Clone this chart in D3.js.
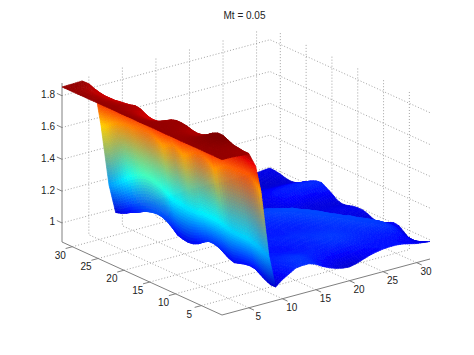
<!DOCTYPE html>
<html>
<head>
<meta charset="utf-8">
<script src="https://cdn.jsdelivr.net/npm/d3@7"></script>
<style>
    html, body { margin: 0; padding: 0; background: #fff; }
    text { font-family: "Liberation Sans", Arial, sans-serif; font-size: 10px; fill: #222; }
</style>
</head>
<body>
<div id="chart"></div>
<script>
// Surface chart, titled Mt = 0.05

const titleText = 'Mt = 0.05';
const xTicks = [5, 10, 15, 20, 25, 30];
const yTicks = [5, 10, 15, 20, 25, 30];
const zTicks = [1, 1.2, 1.4, 1.6, 1.8];
const xValues = [1, 2, 3, 4, 5, 6, 6.8, 8, 9, 10, 11, 12, 13, 14, 15, 16, 17, 18, 19, 20, 21, 22, 23, 24, 25, 26, 27, 28, 29, 30, 31, 32];
const yValues = d3.range(1, 33);

// One row per x value, read along y = 1..32
const zRows = [
    [1.857,1.857,1.858,1.857,1.858,1.858,1.857,1.857,1.856,1.857,1.857,1.856,1.857,1.858,1.857,1.856,1.856,1.857,1.857,1.856,1.856,1.857,1.857,1.856,1.856,1.856,1.855,1.856,1.855,1.855,1.855,1.855],
    [1.857,1.857,1.858,1.859,1.862,1.864,1.864,1.862,1.858,1.855,1.854,1.855,1.856,1.857,1.857,1.855,1.851,1.847,1.846,1.846,1.848,1.85,1.852,1.85,1.849,1.848,1.847,1.847,1.847,1.849,1.853,1.856],
    [1.855,1.855,1.857,1.86,1.865,1.87,1.87,1.865,1.857,1.85,1.847,1.85,1.853,1.855,1.855,1.85,1.84,1.83,1.83,1.83,1.835,1.84,1.845,1.84,1.84,1.835,1.835,1.835,1.835,1.84,1.85,1.857],
    [1.85,1.85,1.855,1.86,1.87,1.88,1.88,1.87,1.85,1.84,1.838,1.84,1.85,1.852,1.852,1.845,1.825,1.81,1.805,1.805,1.815,1.83,1.835,1.828,1.822,1.82,1.815,1.815,1.815,1.82,1.84,1.859],
    [1.85,1.85,1.855,1.86,1.875,1.89,1.89,1.875,1.85,1.835,1.83,1.835,1.845,1.85,1.85,1.84,1.81,1.795,1.79,1.79,1.80,1.82,1.825,1.815,1.81,1.806,1.80,1.80,1.80,1.806,1.815,1.83],
    [1.76,1.77,1.78,1.79,1.79,1.79,1.78,1.77,1.76,1.75,1.76,1.77,1.78,1.77,1.76,1.75,1.75,1.76,1.75,1.75,1.75,1.76,1.77,1.77,1.77,1.76,1.76,1.76,1.76,1.76,1.76,1.76],
    [1.59,1.63,1.66,1.67,1.67,1.66,1.66,1.65,1.63,1.60,1.63,1.65,1.66,1.65,1.62,1.60,1.62,1.64,1.62,1.60,1.62,1.64,1.65,1.65,1.64,1.63,1.63,1.62,1.61,1.59,1.56,1.55],
    [1.17,1.18,1.20,1.21,1.22,1.22,1.22,1.22,1.23,1.24,1.25,1.25,1.25,1.25,1.24,1.24,1.24,1.25,1.25,1.26,1.28,1.30,1.31,1.32,1.32,1.31,1.29,1.27,1.24,1.21,1.18,1.16],
    [.965,.965,.98,1.0,1.02,1.025,1.02,1.01,1.0,1.01,1.03,1.05,1.06,1.06,1.04,1.015,1.0,.995,1.0,1.01,1.04,1.065,1.08,1.085,1.08,1.07,1.055,1.035,1.02,1.0,.985,.975],
    [1.0,1.0,1.01,1.025,1.035,1.04,1.03,1.02,1.01,1.02,1.035,1.05,1.06,1.06,1.045,1.02,1.005,1.0,1.005,1.015,1.04,1.06,1.07,1.075,1.07,1.06,1.045,1.03,1.015,1.0,.99,.98],
    [1.025,1.025,1.03,1.035,1.04,1.04,1.035,1.03,1.025,1.03,1.04,1.05,1.055,1.055,1.04,1.025,1.01,1.005,1.01,1.02,1.04,1.055,1.06,1.065,1.06,1.05,1.04,1.025,1.01,1.0,.99,.985],
    [1.05,1.05,1.05,1.05,1.045,1.04,1.035,1.03,1.03,1.035,1.04,1.05,1.05,1.05,1.035,1.025,1.015,1.01,1.015,1.025,1.04,1.05,1.055,1.055,1.05,1.04,1.03,1.02,1.01,1.0,.995,.99],
    [1.055,1.06,1.06,1.055,1.05,1.04,1.035,1.03,1.03,1.035,1.04,1.045,1.045,1.04,1.03,1.025,1.02,1.015,1.02,1.03,1.04,1.045,1.045,1.045,1.04,1.03,1.02,1.015,1.005,1.0,.995,.99],
    [1.055,1.06,1.065,1.06,1.05,1.04,1.03,1.03,1.03,1.035,1.04,1.04,1.04,1.035,1.03,1.025,1.02,1.02,1.025,1.03,1.035,1.04,1.04,1.035,1.03,1.02,1.015,1.01,1.0,.995,.99,.985],
    [1.04,1.05,1.055,1.055,1.045,1.035,1.03,1.03,1.03,1.035,1.04,1.04,1.035,1.03,1.03,1.03,1.025,1.025,1.03,1.035,1.035,1.035,1.03,1.03,1.02,1.015,1.01,1.0,.995,.99,.985,.985],
    [1.015,1.03,1.04,1.045,1.04,1.035,1.03,1.03,1.035,1.04,1.04,1.035,1.03,1.03,1.03,1.035,1.035,1.035,1.04,1.04,1.035,1.03,1.025,1.02,1.015,1.01,1.0,.995,.99,.985,.985,.985],
    [.995,1.01,1.03,1.04,1.04,1.035,1.035,1.04,1.04,1.045,1.04,1.035,1.03,1.035,1.04,1.04,1.045,1.045,1.045,1.04,1.035,1.025,1.02,1.015,1.01,1.0,.995,.99,.985,.985,.985,.985],
    [.98,1.0,1.02,1.035,1.04,1.04,1.04,1.045,1.05,1.05,1.04,1.035,1.035,1.04,1.045,1.05,1.055,1.055,1.05,1.04,1.03,1.02,1.015,1.01,1.0,.995,.99,.985,.98,.98,.985,.985],
    [.97,.99,1.015,1.035,1.045,1.05,1.05,1.055,1.055,1.05,1.045,1.04,1.04,1.045,1.05,1.06,1.065,1.065,1.055,1.04,1.025,1.015,1.005,1.0,.995,.99,.985,.98,.98,.98,.985,.99],
    [.966,.985,1.015,1.04,1.055,1.06,1.06,1.06,1.055,1.05,1.045,1.04,1.045,1.05,1.06,1.07,1.075,1.07,1.055,1.035,1.02,1.005,1.0,.995,.99,.985,.98,.98,.98,.985,.985,.99],
    [.975,.995,1.02,1.045,1.06,1.065,1.065,1.06,1.055,1.05,1.045,1.045,1.05,1.06,1.07,1.08,1.08,1.07,1.05,1.03,1.01,1.0,.995,.99,.985,.98,.98,.98,.985,.985,.99,.99],
    [.99,1.005,1.025,1.045,1.06,1.065,1.065,1.06,1.055,1.05,1.05,1.055,1.06,1.07,1.08,1.085,1.075,1.055,1.035,1.015,1.0,.995,.99,.985,.98,.98,.98,.985,.985,.99,.99,.99],
    [1.005,1.015,1.03,1.045,1.055,1.06,1.06,1.06,1.055,1.055,1.06,1.065,1.075,1.08,1.085,1.08,1.06,1.04,1.02,1.005,.995,.99,.985,.98,.98,.98,.985,.99,.99,.99,.99,.99],
    [1.015,1.02,1.03,1.04,1.05,1.055,1.055,1.055,1.06,1.065,1.07,1.08,1.085,1.085,1.075,1.06,1.04,1.02,1.005,.995,.99,.99,.99,.99,.985,.985,.985,.99,.99,.99,.99,.985],
    [1.022,1.025,1.03,1.04,1.045,1.05,1.055,1.06,1.065,1.07,1.08,1.085,1.08,1.07,1.055,1.04,1.02,1.005,.995,.99,.995,1.0,1.005,1.005,1.0,.995,.985,.98,.98,.985,.985,.985],
    [1.025,1.025,1.03,1.035,1.045,1.05,1.06,1.065,1.075,1.08,1.08,1.07,1.055,1.04,1.025,1.01,1.0,.99,.99,.995,1.01,1.02,1.025,1.02,1.01,1.0,.985,.975,.975,.98,.985,.985],
    [1.025,1.025,1.03,1.035,1.045,1.055,1.07,1.075,1.08,1.075,1.06,1.045,1.03,1.015,1.005,.995,.99,.985,.985,1.0,1.015,1.03,1.035,1.03,1.015,1.0,.985,.975,.97,.975,.98,.985],
    [1.02,1.02,1.025,1.035,1.05,1.065,1.075,1.075,1.065,1.05,1.035,1.02,1.01,1.0,.995,.99,.985,.98,.98,.995,1.015,1.035,1.04,1.035,1.02,1.0,.98,.97,.965,.97,.98,.985],
    [1.01,1.01,1.02,1.035,1.055,1.065,1.065,1.055,1.04,1.025,1.01,1.0,.99,.985,.985,.99,.985,.98,.98,.995,1.02,1.04,1.045,1.04,1.02,1.0,.98,.97,.965,.97,.98,.985],
    [1.0,1.0,1.01,1.025,1.04,1.045,1.04,1.03,1.015,1.0,.99,.98,.98,.985,.99,.99,.985,.98,.98,1.0,1.02,1.045,1.05,1.04,1.02,1.0,.98,.97,.965,.975,.985,.985],
    [.995,.985,.98,.985,.99,1.0,1.01,1.01,1.0,.985,.975,.97,.98,.99,.995,.995,.985,.975,.98,1.005,1.025,1.05,1.05,1.035,1.015,.995,.98,.97,.97,.98,.985,.99],
    [.99,.975,.955,.945,.95,.975,1.0,1.005,.99,.97,.962,.97,.985,.995,.995,.99,.98,.975,.985,1.01,1.03,1.05,1.045,1.03,1.01,.99,.975,.97,.975,.985,.99,.993]
];

const width = 474;
const height = 355;

// Scales for the three axes. Each one gives a pixel shift on screen
const xShiftH = d3.scaleLinear().domain([1, 32]).range([0, 208]);
const xShiftV = d3.scaleLinear().domain([1, 32]).range([0, -56]);
const yShiftH = d3.scaleLinear().domain([1, 32]).range([0, -160]);
const yShiftV = d3.scaleLinear().domain([1, 32]).range([0, -73]);
const zShiftV = d3.scaleLinear().domain([0.88, 1.88]).range([0, -159]);
const origin = { x: 222, y: 315 };

function project(x, y, z) {
    return [
        origin.x + xShiftH(x) + yShiftH(y),
        origin.y + xShiftV(x) + yShiftV(y) + zShiftV(z)
    ];
}

// jet colormap, one scale per channel
const colorPos = d3.scaleLinear().domain([0.89, 1.875]).range([0, 1]).clamp(true);
const jetDomain = [0, 0.125, 0.375, 0.625, 0.875, 1];
const jetColors = [[0, 0, 135], [0, 0, 255], [0, 255, 255], [255, 255, 0], [255, 0, 0], [128, 0, 0]];
const jetChannel = [0, 1, 2].map(k => d3.scaleLinear().domain(jetDomain).range(jetColors.map(c => c[k])));

function jet(z) {
    const t = colorPos(z);
    return jetChannel.map(s => s(t));
}

const svg = d3.select('#chart')
    .append('svg')
    .attr('width', width)
    .attr('height', height)
    .style('display', 'block');

// The reference is a soft JPEG, a slight blur takes the edge off the cells
svg.append('defs')
    .append('filter')
    .attr('id', 'soften')
    .attr('x', '-5%').attr('y', '-5%').attr('width', '110%').attr('height', '110%')
    .append('feGaussianBlur')
    .attr('stdDeviation', 0.5);

const lineGen = d3.line();
const gridLines = [];
const [xMin, xMax] = [1, 32];
const [yMin, yMax] = [1, 32];
const [zMin, zMax] = zShiftV.domain();

xTicks.forEach(t => {
    gridLines.push([project(t, yMin, zMin), project(t, yMax, zMin), project(t, yMax, zMax)]);
});
yTicks.forEach(t => {
    gridLines.push([project(xMin, t, zMin), project(xMax, t, zMin), project(xMax, t, zMax)]);
});
zTicks.forEach(t => {
    gridLines.push([project(xMin, yMax, t), project(xMax, yMax, t), project(xMax, yMin, t)]);
});

svg.append('g').selectAll('path')
    .data(gridLines)
    .join('path')
    .attr('d', d => lineGen(d))
    .attr('fill', 'none')
    .attr('stroke', '#8c8c8c')
    .attr('stroke-width', 0.8)
    .attr('stroke-dasharray', '1,2');

// Axis lines
svg.append('path')
    .attr('d', lineGen([project(xMin, yMax, zMax), project(xMin, yMax, zMin), project(xMin, yMin, zMin), project(xMax, yMin, zMin)]))
    .attr('fill', 'none')
    .attr('stroke', '#808080')
    .attr('stroke-width', 1);

// Tick marks
const tickMarks = [];
xTicks.forEach(t => tickMarks.push([project(t, yMin, zMin), project(t, yMin - 1, zMin)]));
yTicks.forEach(t => tickMarks.push([project(xMin, t, zMin), project(xMin - 1, t, zMin)]));
zTicks.forEach(t => tickMarks.push([project(xMin, yMax, t), project(xMin, yMax + 1, t)]));

svg.append('g').selectAll('path')
    .data(tickMarks)
    .join('path')
    .attr('d', d => lineGen(d))
    .attr('stroke', '#808080')
    .attr('stroke-width', 1);

// Surface cells, far corner first so nearer ones paint over them.
// Colours blend in RGB between the grid points, as interp shading does
const cells = [];
for (let i = xValues.length - 2; i >= 0; i--) {
    const zSpan = Math.abs(zRows[i + 1][15] - zRows[i][15]);
    const nx = zSpan > 0.3 ? 24 : zSpan > 0.1 ? 12 : 3;
    for (let j = yValues.length - 2; j >= 0; j--) {
        const ny = 2;
        const z00 = zRows[i][j], z01 = zRows[i][j + 1], z10 = zRows[i + 1][j], z11 = zRows[i + 1][j + 1];
        const c00 = jet(z00), c01 = jet(z01), c10 = jet(z10), c11 = jet(z11);
        const zAt = (u, v) => z00 * (1 - u) * (1 - v) + z10 * u * (1 - v) + z01 * (1 - u) * v + z11 * u * v;
        const colorAt = (u, v) => [0, 1, 2].map(k =>
            c00[k] * (1 - u) * (1 - v) + c10[k] * u * (1 - v) + c01[k] * (1 - u) * v + c11[k] * u * v);
        const pt = (u, v) => project(xValues[i] + u * (xValues[i + 1] - xValues[i]), yValues[j] + v, zAt(u, v));
        for (let a = nx - 1; a >= 0; a--) {
            for (let b = ny - 1; b >= 0; b--) {
                const u0 = a / nx, u1 = (a + 1) / nx, v0 = b / ny, v1 = (b + 1) / ny;
                const c = colorAt((u0 + u1) / 2, (v0 + v1) / 2);
                cells.push({
                    pts: [pt(u0, v0), pt(u1, v0), pt(u1, v1), pt(u0, v1)],
                    color: `rgb(${Math.round(c[0])},${Math.round(c[1])},${Math.round(c[2])})`
                });
            }
        }
    }
}

svg.append('g')
    .attr('filter', 'url(#soften)')
    .selectAll('path')
    .data(cells)
    .join('path')
    .attr('d', d => lineGen(d.pts) + 'Z')
    .attr('fill', d => d.color)
    .attr('stroke', d => d.color)
    .attr('stroke-width', 0.7);

// Tick labels
svg.append('g').selectAll('text')
    .data(xTicks)
    .join('text')
    .attr('x', d => project(d, yMin, zMin)[0] + 9.5)
    .attr('y', d => project(d, yMin, zMin)[1] + 9)
    .attr('dy', '0.35em')
    .attr('text-anchor', 'middle')
    .text(d => d);

svg.append('g').selectAll('text')
    .data(yTicks)
    .join('text')
    .attr('x', d => project(xMin, d, zMin)[0] - 12)
    .attr('y', d => project(xMin, d, zMin)[1] + 8.5)
    .attr('dy', '0.35em')
    .attr('text-anchor', 'middle')
    .text(d => d);

svg.append('g').selectAll('text')
    .data(zTicks)
    .join('text')
    .attr('x', d => project(xMin, yMax, d)[0] - 7)
    .attr('y', d => project(xMin, yMax, d)[1] - 1)
    .attr('dy', '0.35em')
    .attr('text-anchor', 'end')
    .text(d => d);

// Title
svg.append('text')
    .attr('x', 244.5)
    .attr('y', 15)
    .attr('dy', '0.35em')
    .attr('text-anchor', 'middle')
    .text(titleText);
</script>
</body>
</html>
